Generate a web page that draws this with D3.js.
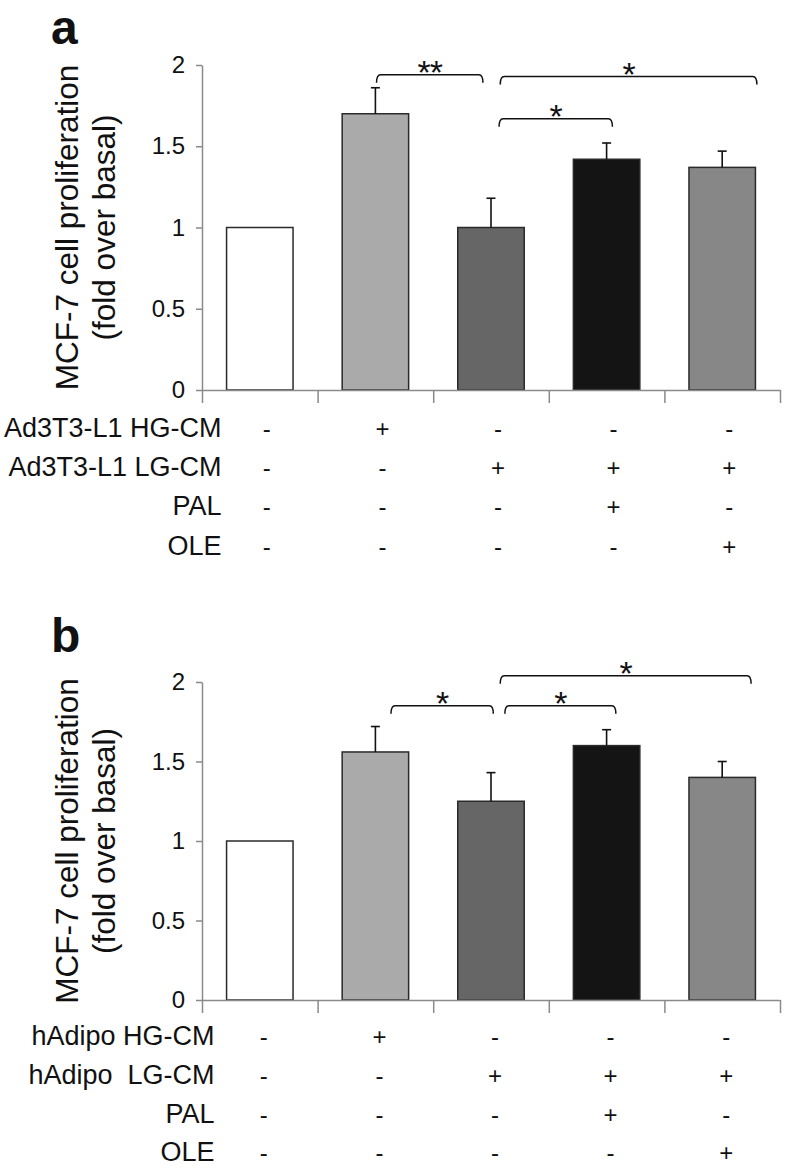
<!DOCTYPE html>
<html>
<head>
<meta charset="utf-8">
<script src="https://cdn.jsdelivr.net/npm/d3@7"></script>
<style>
  html, body { margin: 0; padding: 0; background: #fff; }
  svg { display: block; font-family: "Liberation Sans", Arial, Helvetica, sans-serif; }
</style>
</head>
<body>
<svg id="chart" width="786" height="1168"></svg>
<script>
// ---------------- DATA ----------------
const categories = ["Basal", "HG-CM", "LG-CM", "LG-CM + PAL", "LG-CM + OLE"];
const barColors = ["#ffffff", "#aaaaaa", "#666666", "#141414", "#878787"];

const valuesA = [1.00, 1.70, 1.00, 1.42, 1.37];
const errorsA = [0.00, 0.16, 0.18, 0.10, 0.10];
const valuesB = [1.00, 1.56, 1.25, 1.60, 1.40];
const errorsB = [0.00, 0.16, 0.18, 0.10, 0.10];

const yTickValues = [0, 0.5, 1, 1.5, 2];
const yTitleLines = ["MCF-7 cell proliferation", "(fold over basal)"];

const rowLabelsA = ["Ad3T3-L1 HG-CM", "Ad3T3-L1 LG-CM", "PAL", "OLE"];
const rowLabelsB = ["hAdipo HG-CM", "hAdipo  LG-CM", "PAL", "OLE"];
const signsHG  = ["-", "+", "-", "-", "-"];
const signsLG  = ["-", "-", "+", "+", "+"];
const signsPAL = ["-", "-", "-", "+", "-"];
const signsOLE = ["-", "-", "-", "-", "+"];

// significance brackets: from/to in category-index units, level in y-value units
const bracketsA = [
  { from: 1.01, to: 1.93, level: 1.94, label: "**" },
  { from: 2.08, to: 4.30, level: 1.93, label: "*" },
  { from: 2.07, to: 3.05, level: 1.67, label: "*" }
];
const bracketsB = [
  { from: 1.135, to: 2.02, level: 1.85, label: "*" },
  { from: 2.12, to: 3.08, level: 1.85, label: "*" },
  { from: 2.08, to: 4.25, level: 2.04, label: "*" }
];

// ---------------- LAYOUT ----------------
const svg = d3.select("#chart");
const AXIS = "#8a8a8a";

function drawPanel(cfg) {
  const g = svg.append("g");
  const x = d3.scaleBand().domain(categories).range([cfg.x0, cfg.x1])
    .paddingInner(0.425).paddingOuter(0.2125);
  const xIdx = d3.scaleLinear().domain([-0.5, categories.length - 0.5]).range([cfg.x0, cfg.x1]);
  const y = d3.scaleLinear().domain([0, 2]).range([cfg.yBottom, cfg.yTop]);

  // panel letter
  g.append("text").attr("x", 51).attr("y", cfg.letterY)
    .attr("font-size", 48).attr("font-weight", "bold").attr("fill", "#111")
    .text(cfg.letter);

  // y title
  const cy = (cfg.yTop + cfg.yBottom) / 2;
  yTitleLines.forEach((t, i) => {
    g.append("text")
      .attr("transform", `translate(${[77.5, 115][i]},${cy}) rotate(-90)`)
      .attr("text-anchor", "middle").attr("font-size", 31.5).attr("fill", "#111")
      .text(t);
  });

  // bars
  const data = categories.map((c, i) => ({ c, v: cfg.values[i], e: cfg.errors[i], col: barColors[i] }));
  g.selectAll("rect.bar").data(data).join("rect").attr("class", "bar")
    .attr("x", d => x(d.c)).attr("width", x.bandwidth())
    .attr("y", d => y(d.v)).attr("height", d => y(0) - y(d.v))
    .attr("fill", d => d.col).attr("stroke", "#2a2a2a").attr("stroke-width", 1.5);

  // error bars
  const eg = g.selectAll("g.err").data(data.filter(d => d.e > 0)).join("g").attr("class", "err")
    .attr("stroke", "#111").attr("stroke-width", 1.6);
  eg.append("line")
    .attr("x1", d => x(d.c) + x.bandwidth() / 2).attr("x2", d => x(d.c) + x.bandwidth() / 2)
    .attr("y1", d => y(d.v)).attr("y2", d => y(d.v + d.e));
  eg.append("line")
    .attr("x1", d => x(d.c) + x.bandwidth() / 2 - 4.5).attr("x2", d => x(d.c) + x.bandwidth() / 2 + 4.5)
    .attr("y1", d => y(d.v + d.e)).attr("y2", d => y(d.v + d.e));

  // y axis
  const yAxis = g.append("g").attr("transform", `translate(${cfg.x0},0)`)
    .call(d3.axisLeft(y).tickValues(yTickValues).tickSize(6).tickSizeOuter(0).tickPadding(11)
      .tickFormat(d => String(d)));
  yAxis.select(".domain").attr("stroke", AXIS).attr("stroke-width", 1.5);
  yAxis.selectAll(".tick line").attr("stroke", AXIS).attr("stroke-width", 1.5);
  yAxis.selectAll(".tick text").attr("font-size", 24).attr("fill", "#111")
    .attr("font-family", "Liberation Sans, Arial, sans-serif");

  // x axis (category boundaries)
  const xb = d3.scaleLinear().domain([0, categories.length]).range([cfg.x0, cfg.x1]);
  const xAxis = g.append("g").attr("transform", `translate(0,${cfg.yBottom})`)
    .call(d3.axisBottom(xb).tickValues(d3.range(0, categories.length + 1)).tickSize(13).tickSizeOuter(0)
      .tickFormat(""));
  xAxis.select(".domain").attr("stroke", AXIS).attr("stroke-width", 1.5);
  xAxis.selectAll(".tick line").attr("stroke", AXIS).attr("stroke-width", 1.5);

  // brackets
  const r = 4, h = 8, sfs = 34;
  cfg.brackets.forEach(b => {
    const xa = xIdx(b.from), xz = xIdx(b.to), yt = y(b.level);
    const p = d3.path();
    p.moveTo(xa, yt + h);
    p.quadraticCurveTo(xa, yt, xa + r, yt);
    p.lineTo(xz - r, yt);
    p.quadraticCurveTo(xz, yt, xz, yt + h);
    g.append("path").attr("d", p.toString()).attr("fill", "none")
      .attr("stroke", "#111").attr("stroke-width", 1.5);
    g.append("text").attr("x", (xa + xz) / 2).attr("y", yt - 10.5 + 0.58 * sfs)
      .attr("text-anchor", "middle").attr("font-size", sfs).attr("fill", "#111")
      .attr("letter-spacing", -1)
      .text(b.label);
  });

  // condition table
  const rows = [signsHG, signsLG, signsPAL, signsOLE];
  rows.forEach((signs, ri) => {
    const by = cfg.yBottom + cfg.rowStart + ri * cfg.rowStep;
    g.append("text").attr("x", cfg.labelRight).attr("y", by)
      .attr("text-anchor", "end").attr("font-size", 27).attr("fill", "#111")
      .style("white-space", "pre")
      .text(cfg.rowLabels[ri]);
    g.selectAll(null).data(signs).join("text")
      .attr("x", (d, i) => x(categories[i]) + x.bandwidth() / 2 + cfg.signShift)
      .attr("y", by)
      .attr("text-anchor", "middle").attr("font-size", 24).attr("fill", "#111")
      .text(d => d);
  });
}

drawPanel({
  letter: "a", letterY: 43.5,
  x0: 202, x1: 780, yTop: 65, yBottom: 390,
  values: valuesA, errors: errorsA, brackets: bracketsA,
  rowLabels: rowLabelsA, labelRight: 221.5, signShift: 7,
  rowStart: 46.5, rowStep: 39.4
});
drawPanel({
  letter: "b", letterY: 651.5,
  x0: 202, x1: 780, yTop: 682, yBottom: 1000,
  values: valuesB, errors: errorsB, brackets: bracketsB,
  rowLabels: rowLabelsB, labelRight: 214.5, signShift: 4,
  rowStart: 45, rowStep: 38.8
});
</script>
</body>
</html>
